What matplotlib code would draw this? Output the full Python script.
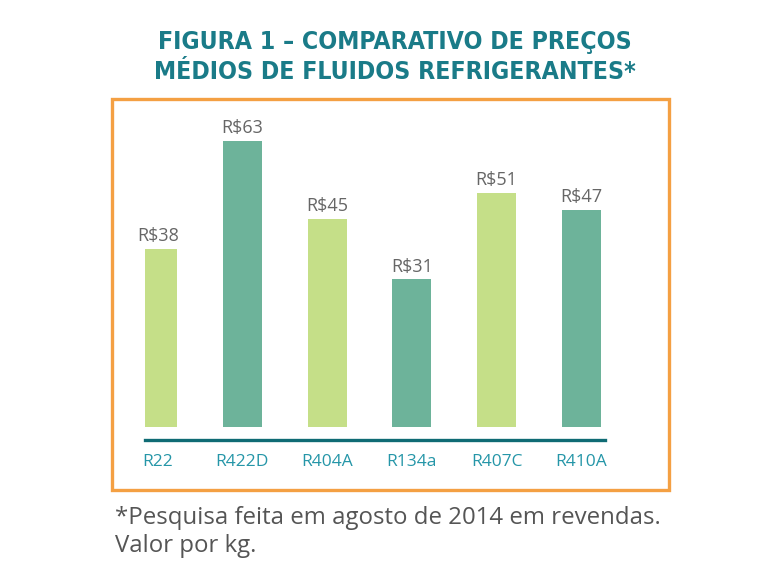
import matplotlib
matplotlib.use("Agg")
import matplotlib.pyplot as plt
from matplotlib.patches import Rectangle

categories = ["R22", "R422D", "R404A", "R134a", "R407C", "R410A"]
prices = [38, 63, 45, 31, 51, 47]
value_labels = ["R$38", "R$63", "R$45", "R$31", "R$51", "R$47"]
bar_colors = ["#c5df88", "#6db39a", "#c5df88", "#6db39a", "#c5df88", "#6db39a"]

BASE = -3.24  # value axis baseline used by the original chart

W, H = 771, 577
fig = plt.figure(figsize=(W / 100, H / 100), dpi=100)

def px(x0, y0, x1, y1):
    return [x0 / W, 1 - y1 / H, (x1 - x0) / W, (y1 - y0) / H]

ax = fig.add_axes(px(145, 117, 605, 427))
xs = list(range(len(categories)))
bars = ax.bar(xs, [p - BASE for p in prices], bottom=BASE, width=0.46,
              color=bar_colors, zorder=2)
ax.set_xlim(-0.149, 5.278)
ax.set_ylim(BASE, 68.5)
for b, p, lab in zip(bars, prices, value_labels):
    ax.annotate(lab, (b.get_x() + b.get_width() / 2, p),
                xytext=(0, 2.5), textcoords="offset points", ha="center", va="bottom",
                fontsize=13, color="#666666", family="Open Sans")
for s in ["top", "left", "right"]:
    ax.spines[s].set_visible(False)
ax.spines["bottom"].set_position(("outward", 9.7))
ax.spines["bottom"].set_color("#0f6b74")
ax.spines["bottom"].set_linewidth(2.4)
ax.set_yticks([])
ax.set_xticks(xs)
ax.set_xticklabels(categories, fontsize=12.5, color="#2596a8", family="Open Sans")
ax.tick_params(axis="x", length=0, pad=10)
ax.patch.set_visible(False)

# orange frame
fig.patches.append(Rectangle((112 / W, 1 - 490 / H), (669 - 112) / W, (490 - 99) / H,
                             transform=fig.transFigure, fill=False,
                             edgecolor="#f4a043", linewidth=2.4))

fig.text(395 / W, 1 - 42 / H, "FIGURA 1 – COMPARATIVO DE PREÇOS",
         ha="center", va="center", fontsize=17.8, fontweight="bold",
         color="#1a7b88", family="DejaVu Sans", fontstretch="condensed")
fig.text(395 / W, 1 - 72 / H, "MÉDIOS DE FLUIDOS REFRIGERANTES*",
         ha="center", va="center", fontsize=17.8, fontweight="bold",
         color="#1a7b88", family="DejaVu Sans", fontstretch="condensed")

fig.text(115 / W, 1 - 518 / H, "*Pesquisa feita em agosto de 2014 em revendas.",
         ha="left", va="center", fontsize=17.3, color="#555555", family="Open Sans")
fig.text(115 / W, 1 - 546 / H, "Valor por kg.",
         ha="left", va="center", fontsize=17.3, color="#555555", family="Open Sans")

fig.savefig("out.png", dpi=100)
